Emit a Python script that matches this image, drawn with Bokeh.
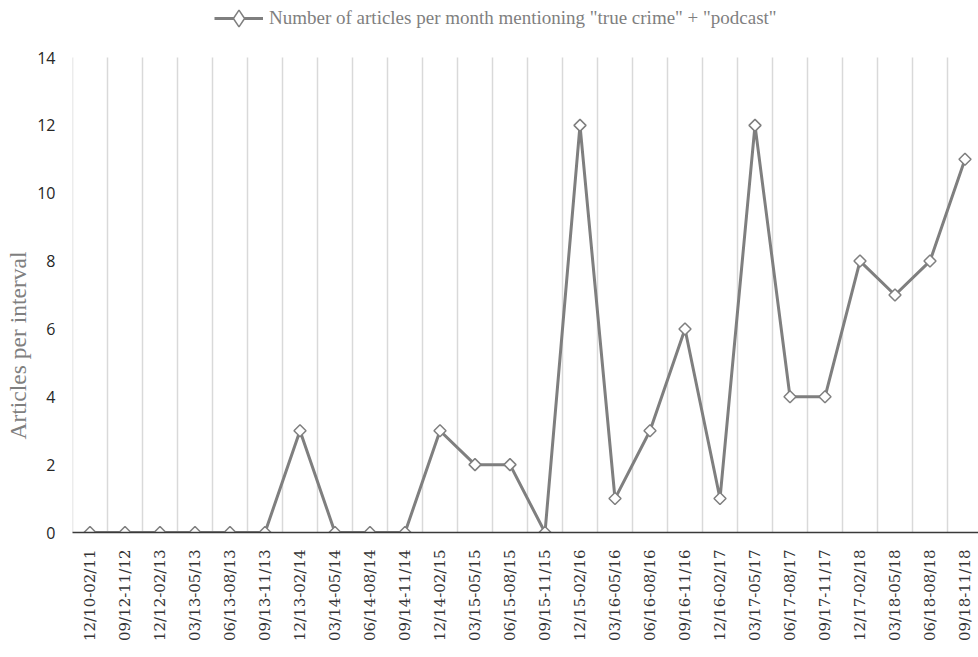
import math

from bokeh.embed import file_html
from bokeh.models import ColumnDataSource, FixedTicker, Legend, LegendItem, Range1d, Title
from bokeh.plotting import figure
from bokeh.resources import INLINE

# Three-month intervals and article counts
intervals = [
    "12/10-02/11", "09/12-11/12", "12/12-02/13", "03/13-05/13", "06/13-08/13",
    "09/13-11/13", "12/13-02/14", "03/14-05/14", "06/14-08/14", "09/14-11/14",
    "12/14-02/15", "03/15-05/15", "06/15-08/15", "09/15-11/15", "12/15-02/16",
    "03/16-05/16", "06/16-08/16", "09/16-11/16", "12/16-02/17", "03/17-05/17",
    "06/17-08/17", "09/17-11/17", "12/17-02/18", "03/18-05/18", "06/18-08/18",
    "09/18-11/18",
]
articles = [0, 0, 0, 0, 0, 0, 3, 0, 0, 0, 3, 2, 2, 0, 12, 1, 3, 6, 1, 12, 4, 4, 8, 7, 8, 11]
y_ticks = [0, 2, 4, 6, 8, 10, 12, 14]

series_label = 'Number of articles per month mentioning "true crime" + "podcast"'
y_title = "Articles per interval"

LINE_GREY = "#7f7f7f"
GRID_GREY = "#d9d9d9"

positions = list(range(len(intervals)))
source = ColumnDataSource(data=dict(x=positions, y=articles, label=intervals))

# Frame geometry: 35 px per category from x=72 to the page's right edge;
# the frame also spans the header strip so the legend can sit there.
W, H = 978, 657
FRAME_LEFT = 72
FRAME_BOTTOM_PAD = 125
BAND = 35.0
PX_PER_UNIT = 475.0 / 14.0
frame_h = H - FRAME_BOTTOM_PAD

p = figure(
    width=W,
    height=H,
    title=None,
    output_backend="svg",
    toolbar_location=None,
    x_range=Range1d(-0.5, -0.5 + (W - FRAME_LEFT) / BAND),
    y_range=Range1d(0, frame_h / PX_PER_UNIT),
    min_border_left=FRAME_LEFT,
    min_border_right=0,
    min_border_top=0,
    min_border_bottom=FRAME_BOTTOM_PAD,
)
p.outline_line_color = None
p.background_fill_color = "white"
p.border_fill_color = "white"

# range used only by the legend swatch renderer, so its points stay off-frame
p.extra_y_ranges = {"legend_key": Range1d(1000, 2000)}

# x axis: one tick per interval, rotated serif labels
p.xaxis.ticker = FixedTicker(ticks=positions)
p.xaxis.major_label_overrides = {i: lab for i, lab in enumerate(intervals)}
p.xaxis.major_label_orientation = math.pi / 2
p.xaxis.major_label_text_font = "DejaVu Serif"
p.xaxis.major_label_text_font_size = "15px"
p.xaxis.major_label_text_color = "#333333"
p.xaxis.major_label_standoff = 17
p.xaxis.major_tick_out = 0
p.xaxis.major_tick_in = 0
p.xaxis.major_tick_line_color = None
p.xaxis.minor_tick_line_color = None
p.xaxis.axis_line_color = "#3a3a3a"
p.xaxis.axis_line_width = 1.5

# y axis: labels only
p.yaxis.ticker = FixedTicker(ticks=y_ticks)
p.yaxis.major_label_text_font = "Open Sans"
p.yaxis.major_label_text_font_size = "16px"
p.yaxis.major_label_text_color = "#262626"
p.yaxis.major_label_standoff = 17
p.yaxis.major_tick_out = 0
p.yaxis.major_tick_in = 0
p.yaxis.major_tick_line_color = None
p.yaxis.minor_tick_line_color = None
p.yaxis.axis_line_color = None

# y axis title, placed as a side title so it can sit below centre
p.add_layout(
    Title(
        text=y_title,
        align="left",
        offset=93,
        vertical_align="middle",
        standoff=6,
        text_font="Liberation Serif",
        text_font_size="23.5px",
        text_font_style="normal",
        text_color=LINE_GREY,
    ),
    "left",
)

p.xgrid.grid_line_color = None
p.ygrid.grid_line_color = None

# vertical gridlines on the category boundaries, up to the top tick
bounds = [i - 0.5 for i in range(len(intervals) + 1)]
p.segment(
    x0=bounds, y0=[0] * len(bounds), x1=bounds, y1=[y_ticks[-1]] * len(bounds),
    line_color=GRID_GREY, line_width=1.5,
)

line_r = p.line("x", "y", source=source, line_color=LINE_GREY, line_width=3)
p.scatter(
    "x", "y", source=source, marker="square", angle=math.pi / 4, size=8.5,
    fill_color="white", line_color=LINE_GREY, line_width=1.5,
)

# legend swatch marker: same data on the off-frame range
key_r = p.scatter(
    "x", "y", source=source, y_range_name="legend_key",
    marker="diamond", size=17,
    fill_color="white", line_color=LINE_GREY, line_width=1.5,
)

legend = Legend(
    items=[LegendItem(label=series_label, renderers=[line_r, key_r])],
    location=(142, frame_h - 39),
    orientation="horizontal",
    label_text_font="Liberation Serif",
    label_text_font_size="19px",
    label_text_color=LINE_GREY,
    glyph_width=49,
    glyph_height=42,
    label_standoff=6,
    padding=0,
    margin=0,
    border_line_color=None,
    background_fill_alpha=0,
)
p.add_layout(legend, "center")

open("out.html", "w").write(file_html(p, INLINE))
